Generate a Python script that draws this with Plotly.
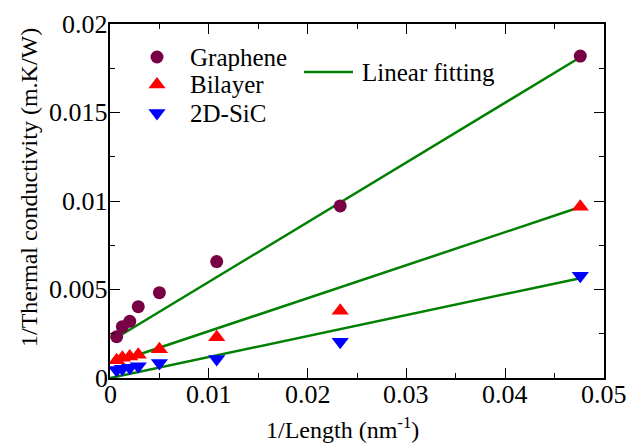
import plotly.graph_objects as go
import numpy as np

# ---- data ----
inv_length = [0.00067, 0.00125, 0.0020, 0.00286, 0.0050, 0.0108, 0.0233, 0.0476]
graphene = [0.00233, 0.00290, 0.00320, 0.00403, 0.00482, 0.00658, 0.00972, 0.01819]
bilayer = [0.00100, 0.00115, 0.00122, 0.00132, 0.00163, 0.00230, 0.00380, 0.00968]
sic = [0.00045, 0.00052, 0.00058, 0.00066, 0.00085, 0.00107, 0.00205, 0.00578]

fit_slope = [0.3376, 0.1865, 0.1185]
fit_intercept = [0.00205, 0.00078, 0.0]
fit_xstart = [0.00074, 0.00074, 0.0]
fit_xend = [0.0476, 0.0476, 0.0476]

x_ticks = [0, 0.01, 0.02, 0.03, 0.04, 0.05]
x_ticktext = ["0", "0.01", "0.02", "0.03", "0.04", "0.05"]
y_ticks = [0, 0.005, 0.01, 0.015, 0.02]
y_ticktext = ["0", "0.005", "0.01", "0.015", "0.02"]

series_names = ["Graphene", "Bilayer", "2D-SiC"]
series_symbols = ["circle", "triangle-up", "triangle-down"]
series_sizes = [13, 15, 15]
series_colors = ["#780045", "#ff0000", "#0000ff"]
fit_label = "Linear fitting"

# legend layout (figure pixel positions)
PLOT_L, PLOT_R, PLOT_T, PLOT_B = 110, 604, 24, 378
legend_key_x = 157
legend_text_x = 188
legend_rows_y = [57, 84.5, 113]
fit_key_x = [304, 353]
fit_key_y = 72
fit_text_x = 360

SERIF = "Liberation Serif"
GREEN = "#008000"

fig = go.Figure()

for i in range(3):
    xs = np.array([fit_xstart[i], fit_xend[i]])
    ys = fit_slope[i] * xs + fit_intercept[i]
    fig.add_trace(go.Scatter(x=xs, y=ys, mode="lines", name=fit_label,
                             line=dict(color=GREEN, width=2.5), showlegend=False))

for name, vals, sym, sz, col in zip(series_names, [graphene, bilayer, sic],
                                    series_symbols, series_sizes, series_colors):
    fig.add_trace(go.Scatter(x=inv_length, y=vals, mode="markers", name=name, showlegend=False,
                             marker=dict(symbol=sym, size=sz, color=col)))

# minor ticks via overlaid axes (needs a trace on them)
fig.add_trace(go.Scatter(x=[fit_xstart[0]], y=[fit_intercept[0]], xaxis="x2", yaxis="y2",
                         mode="markers", marker=dict(opacity=0), showlegend=False, hoverinfo="skip"))

# legend keys, drawn on a hidden overlay axis measured in figure pixels
for name, y, sym, sz, col in zip(series_names, legend_rows_y, series_symbols, series_sizes, series_colors):
    fig.add_trace(go.Scatter(x=[legend_key_x], y=[y], xaxis="x3", yaxis="y3", mode="markers",
                             marker=dict(symbol=sym, size=sz, color=col), showlegend=False,
                             hoverinfo="skip", cliponaxis=False))
    fig.add_annotation(text=name, xref="x3", yref="y3", x=legend_text_x, y=y,
                       xanchor="left", yanchor="middle", showarrow=False,
                       font=dict(family=SERIF, size=25, color="black"))
fig.add_trace(go.Scatter(x=fit_key_x, y=[fit_key_y, fit_key_y], xaxis="x3", yaxis="y3", mode="lines",
                         line=dict(color=GREEN, width=2.5), showlegend=False, hoverinfo="skip"))
fig.add_annotation(text=fit_label, xref="x3", yref="y3", x=fit_text_x, y=fit_key_y,
                   xanchor="left", yanchor="middle", showarrow=False,
                   font=dict(family=SERIF, size=25, color="black"))

# tick labels
for v, t in zip(x_ticks, x_ticktext):
    fig.add_annotation(text=t, xref="x", yref="paper", x=v, y=0, xanchor="center", yanchor="middle",
                       yshift=-16, showarrow=False, font=dict(family=SERIF, size=26, color="black"))
for v, t in zip(y_ticks, y_ticktext):
    fig.add_annotation(text=t, xref="paper", yref="y", x=0, y=v, xanchor="right", yanchor="middle",
                       xshift=0, showarrow=False, font=dict(family=SERIF, size=26, color="black"))

# axis titles
fig.add_annotation(text="1/Thermal conductivity (m.K/W)", textangle=-90,
                   xref="paper", yref="paper", x=(29 - PLOT_L) / (PLOT_R - PLOT_L),
                   y=(PLOT_B - 188) / (PLOT_B - PLOT_T),
                   xanchor="center", yanchor="middle", showarrow=False,
                   font=dict(family=SERIF, size=24, color="black"))
fig.add_annotation(text="1/Length (nm<sup>-1</sup>)", xref="paper", yref="paper",
                   x=(342 - PLOT_L) / (PLOT_R - PLOT_L), y=0, xanchor="center", yanchor="middle",
                   yshift=-50, showarrow=False, font=dict(family=SERIF, size=24, color="black"))

common = dict(showgrid=False, zeroline=False, ticks="inside", tickcolor="black", tickwidth=1.3,
              showticklabels=False, automargin=False)
fig.update_layout(
    xaxis=dict(range=[0, 0.05], tickvals=x_ticks, ticklen=10, showline=True, linecolor="black",
               linewidth=1.5, mirror="ticks", **common),
    yaxis=dict(range=[0, 0.02], tickvals=y_ticks, ticklen=10, showline=True, linecolor="black",
               linewidth=1.5, mirror="ticks", **common),
    xaxis2=dict(overlaying="x", matches="x", range=[0, 0.05], dtick=0.005, tick0=0, ticklen=5,
                mirror="ticks", showline=False, anchor="y", **common),
    yaxis2=dict(overlaying="y", matches="y", range=[0, 0.02], dtick=0.0025, tick0=0, ticklen=5,
                mirror="ticks", showline=False, anchor="x", **common),
    xaxis3=dict(overlaying="x", range=[PLOT_L, PLOT_R], visible=False, anchor="y3"),
    yaxis3=dict(overlaying="y", range=[PLOT_B, PLOT_T], visible=False, anchor="x3"),
    width=632, height=443,
    margin=dict(l=PLOT_L, r=632 - PLOT_R, t=PLOT_T, b=443 - PLOT_B),
    paper_bgcolor="white", plot_bgcolor="white",
    font=dict(family=SERIF, size=25, color="black"),
    showlegend=False,
)

fig.write_html("out.html")
